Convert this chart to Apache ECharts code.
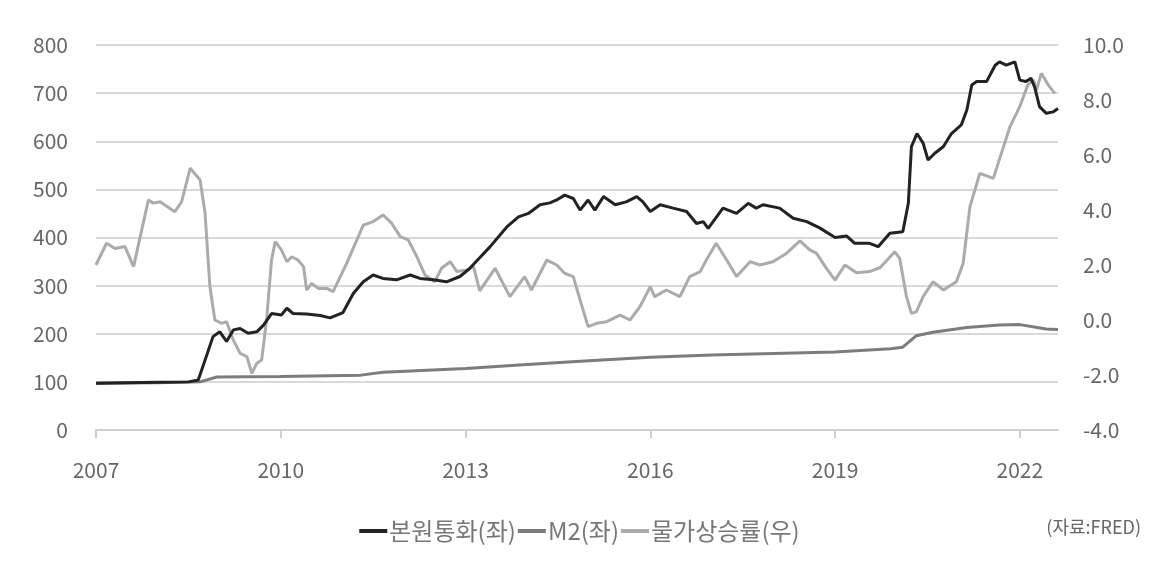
<!DOCTYPE html>
<html>
<head>
<meta charset="utf-8">
<script src="https://cdn.jsdelivr.net/npm/echarts@6/dist/echarts.min.js"></script>
<style>
  html, body { margin: 0; padding: 0; background: #fff; }
  #main { width: 1159px; height: 578px; }
</style>
</head>
<body>
<div id="main"></div>
<script>
// x ticks
var yearTicks = [2007, 2010, 2013, 2016, 2019, 2022]

// 본원통화 (좌)
var baseT = [2007.0, 2007.5, 2008.0, 2008.5, 2008.66, 2008.77, 2008.9, 2009.01, 2009.12, 2009.23, 2009.34, 2009.47, 2009.61, 2009.72, 2009.85,
    2010.01, 2010.1, 2010.2, 2010.42, 2010.64, 2010.8, 2011.01, 2011.18, 2011.34, 2011.5, 2011.66, 2011.88, 2012.1, 2012.26, 2012.48,
    2012.69, 2012.91, 2013.07, 2013.23, 2013.4, 2013.67, 2013.86, 2014.02, 2014.21, 2014.37, 2014.48, 2014.61, 2014.75, 2014.86, 2014.99,
    2015.1, 2015.24, 2015.43, 2015.61, 2015.78, 2015.88, 2016.0, 2016.16, 2016.37, 2016.59, 2016.75, 2016.86, 2016.94, 2017.18, 2017.4,
    2017.59, 2017.72, 2017.83, 2018.1, 2018.32, 2018.54, 2018.75, 2019.0, 2019.19, 2019.32, 2019.56, 2019.7, 2019.89, 2020.1, 2020.19,
    2020.24, 2020.33, 2020.43, 2020.51, 2020.62, 2020.76, 2020.89, 2021.05, 2021.14, 2021.22, 2021.3, 2021.46, 2021.6, 2021.67, 2021.78,
    2021.92, 2022.0, 2022.1, 2022.18, 2022.24, 2022.32, 2022.43, 2022.54, 2022.62]
var baseV = [97, 98, 99, 100, 104, 145, 194, 204, 184, 208, 211, 201, 204, 218, 242,
    239, 253, 242, 241, 238, 233, 244, 284, 308, 322, 315, 312, 322, 315, 312,
    308, 319, 336, 358, 381, 422, 443, 450, 468, 472, 478, 488, 481, 457, 478,
    457, 485, 468, 474, 485, 474, 454, 468, 461, 454, 429, 433, 419, 461, 450,
    471, 461, 468, 461, 440, 433, 420, 400, 403, 388, 388, 381, 409, 412, 471,
    589, 616, 596, 561, 575, 589, 616, 634, 665, 717, 724, 724, 758, 765, 758,
    765, 727, 724, 731, 713, 672, 658, 661, 668]

// M2 (좌)
var m2T = [2007.0, 2008.0, 2008.69, 2008.96, 2010.0, 2011.3, 2011.66, 2013.0, 2014.0, 2015.0, 2016.0, 2017.0, 2018.0, 2019.0,
    2019.9, 2020.1, 2020.32, 2020.59, 2021.14, 2021.67, 2022.0, 2022.43, 2022.62]
var m2V = [97, 98, 100, 110, 111, 114, 120, 128, 136, 144, 151, 156, 159, 162,
    169, 172, 196, 203, 213, 218, 219, 210, 209]

// 물가상승률 (우)
var cpiT = [2007.0, 2007.17, 2007.31, 2007.47, 2007.61, 2007.85, 2007.93, 2008.04, 2008.28, 2008.39, 2008.53, 2008.69, 2008.77, 2008.85,
    2008.93, 2009.04, 2009.12, 2009.23, 2009.34, 2009.45, 2009.53, 2009.61, 2009.69, 2009.77, 2009.85, 2009.91, 2010.01, 2010.1,
    2010.18, 2010.28, 2010.37, 2010.42, 2010.5, 2010.61, 2010.75, 2010.85, 2011.07, 2011.34, 2011.5, 2011.66, 2011.8, 2011.94,
    2012.07, 2012.21, 2012.34, 2012.5, 2012.61, 2012.75, 2012.86, 2013.02, 2013.13, 2013.23, 2013.48, 2013.72, 2013.96, 2014.07,
    2014.32, 2014.48, 2014.61, 2014.75, 2014.86, 2014.99, 2015.13, 2015.29, 2015.51, 2015.67, 2015.83, 2016.0, 2016.07, 2016.26,
    2016.48, 2016.64, 2016.81, 2016.91, 2017.07, 2017.24, 2017.4, 2017.62, 2017.78, 2017.99, 2018.21, 2018.43, 2018.59, 2018.7,
    2018.86, 2019.0, 2019.16, 2019.35, 2019.56, 2019.73, 2019.97, 2020.05, 2020.16, 2020.24, 2020.32, 2020.43, 2020.59, 2020.76,
    2020.97, 2021.08, 2021.19, 2021.35, 2021.57, 2021.7, 2021.84, 2022.0, 2022.13, 2022.22, 2022.27, 2022.35, 2022.46, 2022.57]
var cpiV = [2.0, 2.79, 2.6, 2.67, 1.94, 4.36, 4.25, 4.3, 3.94, 4.3, 5.52, 5.09, 3.9, 1.2,
    0.0, -0.12, -0.06, -0.73, -1.21, -1.33, -1.94, -1.58, -1.45, 0.0, 2.18, 2.85, 2.55, 2.12,
    2.3, 2.18, 1.94, 1.09, 1.33, 1.15, 1.15, 1.03, 2.06, 3.45, 3.58, 3.82, 3.52, 3.03,
    2.91, 2.3, 1.64, 1.39, 1.88, 2.12, 1.76, 1.82, 1.94, 1.06, 1.88, 0.85, 1.58, 1.09,
    2.18, 2.0, 1.7, 1.58, 0.73, -0.24, -0.12, -0.06, 0.18, 0.0, 0.48, 1.21, 0.85, 1.09,
    0.85, 1.58, 1.76, 2.18, 2.79, 2.18, 1.58, 2.12, 2.0, 2.12, 2.42, 2.88, 2.55, 2.42,
    1.88, 1.45, 2.0, 1.72, 1.76, 1.9, 2.48, 2.24, 0.85, 0.24, 0.3, 0.85, 1.39, 1.09,
    1.39, 2.06, 4.12, 5.33, 5.15, 6.06, 7.03, 7.76, 8.55, 8.73, 8.36, 8.97, 8.55, 8.24]

function zip(a, b) {
    var out = []
    for (var i = 0; i < a.length; i++) {
        out.push([a[i], b[i]])
    }
    return out
}

var labelFont = {color: '#666', fontSize: 21, fontFamily: 'Noto Sans CJK KR'}

var myChart = echarts.init(document.getElementById('main'));

myChart.setOption({
    animation: false,
    grid: {left: 96, right: 101, top: 45, bottom: 148},
    legend: {
        left: 'center',
        top: 514,
        itemGap: 2,
        itemWidth: 28,
        itemHeight: 4,
        icon: 'rect',
        data: ['본원통화(좌)', 'M2(좌)', '물가상승률(우)'],
        textStyle: {color: '#777', fontSize: 24, fontFamily: 'Noto Sans CJK KR', padding: [0, 0, 0, -3]}
    },
    graphic: [{
        type: 'text',
        right: 18,
        top: 518,
        style: {text: '(자료:FRED)', fill: '#666', fontSize: 18, fontFamily: 'Noto Sans CJK KR'}
    }],
    xAxis: {
        type: 'value',
        min: 2007,
        max: 2022.62,
        interval: 3,
        axisLine: {lineStyle: {color: '#cfcfcf', width: 2}},
        axisTick: {show: true, length: 8, customValues: yearTicks, lineStyle: {color: '#cfcfcf', width: 2}},
        axisLabel: Object.assign({
            margin: 30,
            customValues: yearTicks,
            formatter: function (v) { return String(v) }
        }, labelFont),
        splitLine: {show: false}
    },
    yAxis: [{
        type: 'value',
        min: 0,
        max: 800,
        interval: 100,
        axisLine: {show: false},
        axisTick: {show: false},
        axisLabel: Object.assign({margin: 28}, labelFont),
        splitLine: {lineStyle: {color: '#d9d9d9', width: 2}}
    }, {
        type: 'value',
        min: -4,
        max: 10,
        interval: 2,
        axisLine: {show: false},
        axisTick: {show: false},
        axisLabel: Object.assign({
            margin: 25,
            formatter: function (v) { return v.toFixed(1) }
        }, labelFont),
        splitLine: {show: false}
    }],
    series: [{
        name: '물가상승률(우)',
        type: 'line',
        yAxisIndex: 1,
        showSymbol: false,
        data: zip(cpiT, cpiV),
        lineStyle: {color: '#ababab', width: 3},
        itemStyle: {color: '#ababab'}
    }, {
        name: 'M2(좌)',
        type: 'line',
        yAxisIndex: 0,
        showSymbol: false,
        data: zip(m2T, m2V),
        lineStyle: {color: '#7c7c7c', width: 3},
        itemStyle: {color: '#7c7c7c'}
    }, {
        name: '본원통화(좌)',
        type: 'line',
        yAxisIndex: 0,
        showSymbol: false,
        data: zip(baseT, baseV),
        lineStyle: {color: '#222222', width: 3},
        itemStyle: {color: '#222222'}
    }]
});
</script>
</body>
</html>
